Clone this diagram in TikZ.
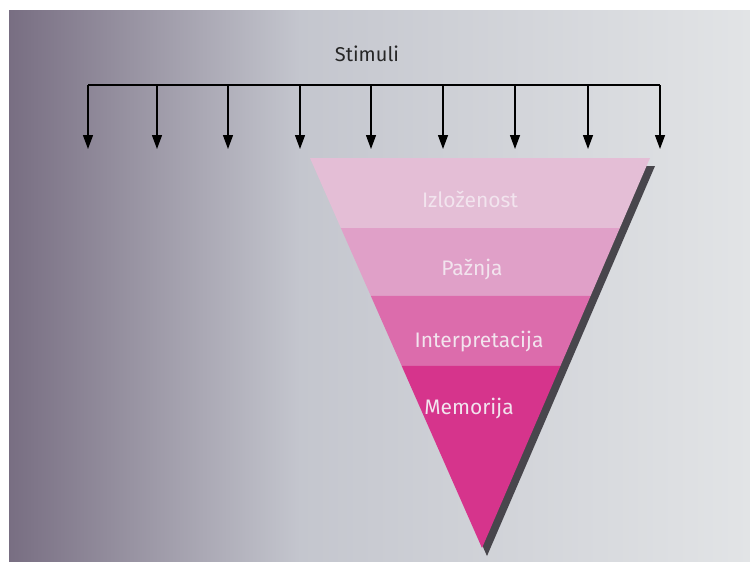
\documentclass[tikz,border=0pt]{standalone}
\usepackage{fontspec}
\setmainfont{Fira Sans}
\usetikzlibrary{arrows.meta,calc}
\definecolor{bgL}{RGB}{120,110,130}
\definecolor{bgM}{RGB}{196,198,206}
\definecolor{bgR}{RGB}{226,228,230}
\definecolor{bandA}{RGB}{228,190,214}
\definecolor{bandB}{RGB}{224,160,200}
\definecolor{bandC}{RGB}{220,108,172}
\definecolor{bandD}{RGB}{214,52,140}
\definecolor{shadowc}{RGB}{72,70,76}
\definecolor{labelc}{RGB}{242,228,238}
\tikzset{
  stimarrow/.style={line width=1.3pt,draw=black,-{Triangle[length=14pt,width=10pt]}},
  barline/.style={line width=1.3pt,draw=black},
  bandlabel/.style={text=labelc,font=\fontsize{21}{24}\selectfont,inner sep=0pt},
  toplabel/.style={text=black!85,font=\fontsize{20}{24}\selectfont,inner sep=0pt}
}
\begin{document}
\begin{tikzpicture}[x=1pt,y=-1pt]
\useasboundingbox (0,0) rectangle (750,562);
\fill[white] (0,0) rectangle (750,562);
\shade[left color=bgL,right color=bgM] (9,10) rectangle (300.5,562);
\shade[left color=bgM,right color=bgR] (300,10) rectangle (750,562);
% stimuli
\node[toplabel] (stim) at (367,54) {Stimuli};
\foreach \i/\x in {1/88,2/157,3/228,4/300,5/371,6/443,7/515,8/588,9/660}{
  \coordinate (t\i) at (\x,85);
  \coordinate (b\i) at (\x,149);
}
\draw[barline] (t1) -- (t9);
\foreach \i in {1,...,9}{\draw[stimarrow] (t\i) -- (b\i);}
% triangle
\coordinate (A) at (310,158);
\coordinate (B) at (650,158);
\coordinate (C) at (482,548);
\fill[shadowc] ($(A)+(5,8)$) -- ($(B)+(5,8)$) -- ($(C)+(5,8)$) -- cycle;
\coordinate (L1) at ($(A)!0.1795!(C)$);
\coordinate (R1) at ($(B)!0.1795!(C)$);
\coordinate (L2) at ($(A)!0.3538!(C)$);
\coordinate (R2) at ($(B)!0.3538!(C)$);
\coordinate (L3) at ($(A)!0.5333!(C)$);
\coordinate (R3) at ($(B)!0.5333!(C)$);
\fill[bandA] (A) -- (B) -- (R1) -- (L1) -- cycle;
\fill[bandB] (L1) -- (R1) -- (R2) -- (L2) -- cycle;
\fill[bandC] (L2) -- (R2) -- (R3) -- (L3) -- cycle;
\fill[bandD] (L3) -- (R3) -- (C) -- cycle;
\node[bandlabel] (izl) at (470,199) {Izloženost};
\node[bandlabel] (paz) at (472,269) {Pažnja};
\node[bandlabel] (int) at (479,342) {Interpretacija};
\node[bandlabel] (mem) at (469,409) {Memorija};
\end{tikzpicture}
\end{document}
